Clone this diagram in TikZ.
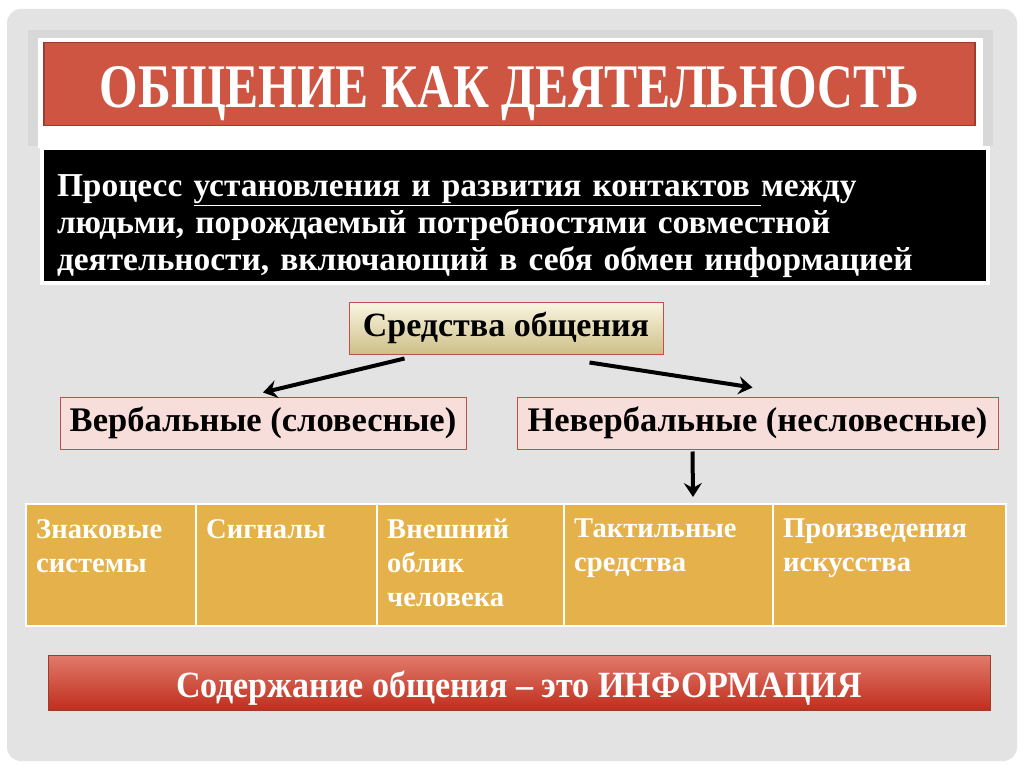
\documentclass[tikz,border=0pt]{standalone}
\usepackage{fontspec}
\setmainfont{Liberation Serif}
\newfontfamily\condfont[FakeStretch=0.8]{Liberation Serif}
\newfontfamily\barfont[FakeStretch=0.92]{Liberation Serif}
\usetikzlibrary{calc,arrows.meta}

\definecolor{slidegrey}{HTML}{E3E3E3}
\definecolor{panelgrey}{HTML}{D8D8D8}
\definecolor{titlered}{HTML}{CD5542}
\definecolor{titleline}{HTML}{9E3B2C}
\definecolor{boxline}{HTML}{C0504D}
\definecolor{boxpink}{HTML}{F8DEDA}
\definecolor{creamtop}{HTML}{FAF6E2}
\definecolor{creambot}{HTML}{CEBF88}
\definecolor{cellgold}{HTML}{E5B14A}
\definecolor{barlight}{HTML}{E27A6B}
\definecolor{bardark}{HTML}{BF2E1D}

\begin{document}
\begin{tikzpicture}[x=1pt,y=-1pt,>=stealth,
    titlebox/.style={draw=titleline, line width=1.5pt, fill=titlered},
    titletext/.style={anchor=base, text=white,
      font=\condfont\bfseries\fontsize{62}{66}\selectfont},
    defbox/.style={draw=white, line width=4pt, fill=black},
    deftext/.style={text=white, align=left, text width=916,
      font=\bfseries\fontsize{33.4}{37}\selectfont},
    kindbox/.style={draw=boxline, line width=1pt, fill=boxpink,
      font=\bfseries\fontsize{34.5}{36}\selectfont},
    cell/.style={draw=white, line width=2pt, fill=cellgold},
    celltext/.style={anchor=north west, text=white, align=left, inner xsep=11pt,
      inner ysep=16pt, font=\bfseries\fontsize{28.6}{34}\selectfont},
    fat/.style={line width=4pt, -{Stealth[length=14pt,width=18pt,inset=5pt]}}
  ]
  \useasboundingbox (0,0) rectangle (1024,767);
  \fill[white] (0,0) rectangle (1024,767);
  \fill[slidegrey, rounded corners=14pt] (7,9) rectangle (1017,761);
  \fill[panelgrey] (28,30) rectangle (993,146);
  \fill[white] (38,38) rectangle (983,148);

  % title and definition
  \node[titlebox, minimum width=931, minimum height=83] (title) at (509.5,84) {};
  \node[titletext] at ($(title.center)+(0,24)$) {ОБЩЕНИЕ КАК ДЕЯТЕЛЬНОСТЬ};
  \node[defbox, minimum width=946, minimum height=135] (defn) at (515,215.5) {};
  \node[deftext] at ($(defn.center)+(0,11)$)
    {Процесс \underline{установления и развития контактов }между\\
     людьми, порождаемый потребностями совместной\\
     деятельности, включающий в себя обмен информацией};

  % means of communication
  \node[kindbox, minimum width=314, minimum height=52, top color=creamtop,
    bottom color=creambot, font=\bfseries\fontsize{34}{36}\selectfont]
    (means) at (506,328) {Средства общения};
  \node[kindbox, minimum width=406, minimum height=52] (verbal) at (263,423)
    {Вербальные (словесные)};
  \node[kindbox, minimum width=481, minimum height=52] (nonverbal) at (757.5,423)
    {Невербальные (несловесные)};

  \draw[fat] ($(means.south west)+(56,4)$) -- ($(verbal.north)+(0,-4)$);
  \draw[fat] ($(means.south west)+(241,8)$) -- ($(nonverbal.north)+(-5,-9)$);

  % kinds of non-verbal means
  \foreach \n/\l/\r in {1/25/195, 2/195/376, 3/376/563, 4/563/772, 5/772/1005}
    \node[cell, minimum width={\r-\l}, minimum height=122, anchor=north west]
      (c\n) at (\l,503) {};
  \node[celltext] at (c1.north west) {Знаковые\\системы};
  \node[celltext] at (c2.north west) {Сигналы};
  \node[celltext] at (c3.north west) {Внешний\\облик\\человека};
  \node[celltext] at (c4.north west) {Тактильные\\средства};
  \node[celltext] at (c5.north west) {Произведения\\искусства};

  \draw[fat] ($(nonverbal.south)+(-65,2)$) -- ($(c4.north)+(24.5,-6)$);

  % content of communication
  \node[draw=titleline, line width=1pt, top color=barlight, bottom color=bardark,
    minimum width=942, minimum height=55] (content) at (519,682.5) {};
  \node[anchor=base, text=white, font=\barfont\bfseries\fontsize{37}{40}\selectfont]
    at ($(content.center)+(0,14.5)$) {Содержание общения – это ИНФОРМАЦИЯ};
\end{tikzpicture}
\end{document}
